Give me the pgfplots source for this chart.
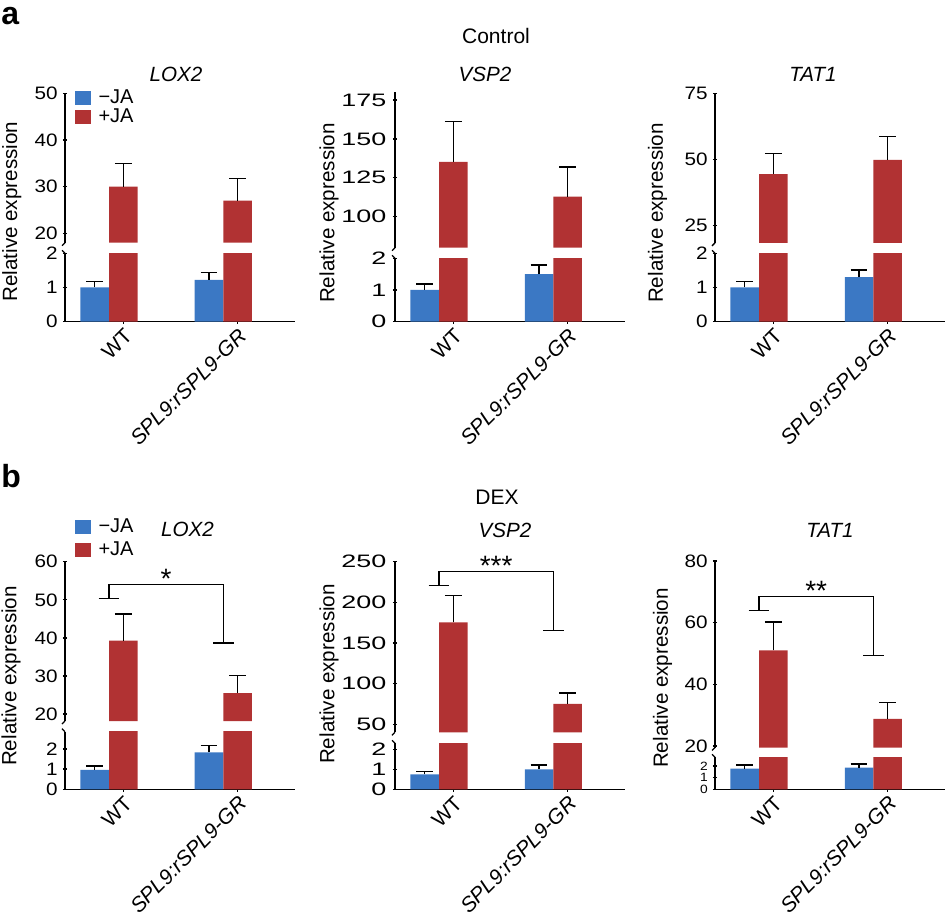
\documentclass[border=0pt]{standalone}
\usepackage{pgfplots}
\pgfplotsset{compat=1.18}
\usepackage{fontspec}
\setmainfont{Liberation Sans}
\definecolor{bJA}{RGB}{59,120,196}
\definecolor{rJA}{RGB}{177,50,51}
\newcommand\fs[1]{\fontsize{#1}{#1}\selectfont}
\tikzset{sigstar/.style={anchor=base, inner sep=0pt, font=\fs{14}, yshift=-2pt}}
\pgfplotsset{
  base/.style={scale only axis, width=115pt, xmin=-0.385, xmax=1.627,
    anchor=south west, clip mode=individual,
    tick style={line width=0.65pt, black}, tick align=outside, major tick length=2.2pt,
    /pgf/number format/assume math mode=true,
    yticklabel style={font=\fs{9}, inner sep=2pt, xscale=1.15},
    ybar, bar width=0.25, bar shift=0pt,
    error bars/y dir=plus, error bars/y explicit,
    error bars/error bar style={line width=0.65pt, draw=black},
    error bars/error mark options={rotate=90, mark size=4.2pt, line width=0.65pt, draw=black}},
  lower/.style={base, axis x line=bottom, axis y line=left, ymin=0, ytick={0,1,2},
    xtick={0.125,1.125}, xticklabels={WT,\textit{SPL9:rSPL9-GR}},
    xticklabel style={rotate=45, anchor=north east, font=\fs{10.5}, inner sep=1pt},
    axis line style={-, line width=0.65pt, black},
    x axis line style={-}, y axis line style={-}},
  upper/.style={base, axis x line=none, axis y line=left,
    axis line style={-, line width=0.65pt, black},
    x axis line style={-}, y axis line style={-}},
  wide/.style={yticklabel style={xscale=1.3}},
  blue/.style={fill=bJA, draw=none},
  red/.style={fill=rJA, draw=none},
  leg/.style={legend cell align=left,
    legend image code/.code={\fill[##1] (0pt,-3.5pt) rectangle (7.85pt,3.5pt);},
    legend style={anchor=north west, draw=none, fill=none, inner sep=0pt,
      column sep=3.7pt, font=\fs{10}, nodes={inner sep=0pt}}},
}
\begin{document}
\begin{tikzpicture}
\path[use as bounding box] (0pt,0pt) rectangle (473pt,460.5pt);

% ---------------- panel a ----------------
% LOX2
\begin{axis}[lower, at={(32.5pt,299.65pt)}, height=34.2pt, ymax=2]
\addplot[blue] coordinates {(-0.125,1.00) +- (0,0.17) (0.875,1.22) +- (0,0.22)};
\addplot[red, error bars/y dir=none] coordinates {(0.125,30) (1.125,27)};
\draw[line width=0.65pt] (rel axis cs:0,1) -- ++(-1.5pt,1.5pt);
\end{axis}
\begin{axis}[upper, at={(32.5pt,339.15pt)}, height=74.7pt, ymin=18, ymax=50, ytick={20,30,40,50},
  leg, legend style={at={(0.0435,1.029)}, row sep=1.5pt}]
\addplot[red, forget plot] coordinates {(0.125,30) +- (0,5) (1.125,27) +- (0,4.7)};
\addlegendimage{fill=bJA, draw=none}\addlegendentry{−JA}
\addlegendimage{fill=rJA, draw=none}\addlegendentry{+JA}
\draw[line width=0.65pt] (rel axis cs:0,0) -- ++(-1.5pt,-1.5pt);
\end{axis}
% VSP2
\begin{axis}[lower, wide, at={(197.5pt,299.65pt)}, height=31.7pt, ymax=2]
\addplot[blue] coordinates {(-0.125,1.00) +- (0,0.19) (0.875,1.50) +- (0,0.29)};
\addplot[red, error bars/y dir=none] coordinates {(0.125,135.3) (1.125,112.9)};
\draw[line width=0.65pt] (rel axis cs:0,1) -- ++(-1.5pt,1.5pt);
\end{axis}
\begin{axis}[upper, wide, at={(197.5pt,336.65pt)}, height=77.7pt, ymin=80, ymax=180, ytick={100,125,150,175}]
\addplot[red] coordinates {(0.125,135.3) +- (0,25.7) (1.125,112.9) +- (0,19.1)};
\draw[line width=0.65pt] (rel axis cs:0,0) -- ++(-1.5pt,-1.5pt);
\end{axis}
% TAT1
\begin{axis}[lower, at={(357.5pt,299.65pt)}, height=34.2pt, ymax=2]
\addplot[blue] coordinates {(-0.125,1.00) +- (0,0.17) (0.875,1.30) +- (0,0.21)};
\addplot[red, error bars/y dir=none] coordinates {(0.125,44.5) (1.125,49.9)};
\draw[line width=0.65pt] (rel axis cs:0,1) -- ++(-1.5pt,1.5pt);
\end{axis}
\begin{axis}[upper, at={(357.5pt,339.05pt)}, height=74.8pt, ymin=18.5, ymax=75, ytick={25,50,75}]
\addplot[red] coordinates {(0.125,44.5) +- (0,7.7) (1.125,49.9) +- (0,8.7)};
\draw[line width=0.65pt] (rel axis cs:0,0) -- ++(-1.5pt,-1.5pt);
\end{axis}

% ---------------- panel b ----------------
% LOX2
\begin{axis}[lower, at={(32.5pt,65.85pt)}, height=28.8pt, ymax=2.85]
\addplot[blue] coordinates {(-0.125,0.96) +- (0,0.19) (0.875,1.83) +- (0,0.35)};
\addplot[red, error bars/y dir=none] coordinates {(0.125,39.3) (1.125,25.5)};
\draw[line width=0.65pt] (rel axis cs:0,1) -- ++(-1.5pt,1.5pt);
\end{axis}
\begin{axis}[upper, at={(32.5pt,100pt)}, height=79.65pt, ymin=18.2, ymax=60, ytick={20,30,40,50,60},
  leg, legend style={at={(0.0435,1.274)}, row sep=3.2pt}]
\addplot[red, forget plot] coordinates {(0.125,39.3) +- (0,7.0) (1.125,25.5) +- (0,4.7)};
\addlegendimage{fill=bJA, draw=none}\addlegendentry{−JA}
\addlegendimage{fill=rJA, draw=none}\addlegendentry{+JA}
\draw[line width=0.65pt] (rel axis cs:0,0) -- ++(-1.5pt,-1.5pt);
\draw[line width=0.65pt] (axis cs:-0.09,50.4) -- (axis cs:0.09,50.4);
\draw[line width=0.65pt] (axis cs:0,50.4) -- (axis cs:0,54.1) -- (axis cs:1,54.1) -- (axis cs:1,38.7);
\draw[line width=0.65pt] (axis cs:0.91,38.7) -- (axis cs:1.09,38.7);
\node[sigstar] at (axis cs:0.5,54.1) {*};
\end{axis}
% VSP2
\begin{axis}[lower, wide, at={(197.5pt,65.85pt)}, height=23pt, ymax=2.3]
\addplot[blue] coordinates {(-0.125,0.75) +- (0,0.13) (0.875,1.00) +- (0,0.21)};
\addplot[red, error bars/y dir=none] coordinates {(0.125,175.4) (1.125,75)};
\draw[line width=0.65pt] (rel axis cs:0,1) -- ++(-1.5pt,1.5pt);
\end{axis}
\begin{axis}[upper, wide, at={(197.5pt,94.35pt)}, height=85.3pt, ymin=40, ymax=250, ytick={50,100,150,200,250}]
\addplot[red] coordinates {(0.125,175.4) +- (0,32.6) (1.125,75) +- (0,13.5)};
\draw[line width=0.65pt] (rel axis cs:0,0) -- ++(-1.5pt,-1.5pt);
\draw[line width=0.65pt] (axis cs:-0.09,220.4) -- (axis cs:0.09,220.4);
\draw[line width=0.65pt] (axis cs:0,220.4) -- (axis cs:0,238) -- (axis cs:1,238) -- (axis cs:1,165.5);
\draw[line width=0.65pt] (axis cs:0.91,165.5) -- (axis cs:1.09,165.5);
\node[sigstar] at (axis cs:0.5,238) {***};
\end{axis}
% TAT1
\begin{axis}[lower, at={(357.5pt,65.85pt)}, height=16pt, ymax=2.74, yticklabel style={font=\fs{6}}]
\addplot[blue] coordinates {(-0.125,1.77) +- (0,0.31) (0.875,1.85) +- (0,0.32)};
\addplot[red, error bars/y dir=none] coordinates {(0.125,51.0) (1.125,28.8)};
\draw[line width=0.65pt] (rel axis cs:0,1) -- ++(-1.5pt,1.5pt);
\end{axis}
\begin{axis}[upper, at={(357.5pt,86.75pt)}, height=93.25pt, ymin=19.5, ymax=80, ytick={20,40,60,80}]
\addplot[red] coordinates {(0.125,51.0) +- (0,9.2) (1.125,28.8) +- (0,5.2)};
\draw[line width=0.65pt] (rel axis cs:0,0) -- ++(-1.5pt,-1.5pt);
\draw[line width=0.65pt] (axis cs:-0.09,63.9) -- (axis cs:0.09,63.9);
\draw[line width=0.65pt] (axis cs:0,63.9) -- (axis cs:0,68.5) -- (axis cs:1,68.5) -- (axis cs:1,49.3);
\draw[line width=0.65pt] (axis cs:0.91,49.3) -- (axis cs:1.09,49.3);
\node[sigstar] at (axis cs:0.5,68.5) {**};
\end{axis}

% ---------------- texts ----------------
\node[anchor=base west, inner sep=0pt, font=\fs{16}\bfseries] at (0.5pt,448pt) {a};
\node[anchor=base west, inner sep=0pt, font=\fs{16}\bfseries] at (0.5pt,216.5pt) {b};
\node[anchor=base, inner sep=0pt, font=\fs{10.5}] at (248pt,438.85pt) {Control};
\node[anchor=base, inner sep=0pt, font=\fs{10.5}] at (248.5pt,208pt) {DEX};

\node[anchor=base, inner sep=0pt, font=\fs{10.3}\itshape] at (88pt,419.65pt) {LOX2};
\node[anchor=base, inner sep=0pt, font=\fs{10.3}\itshape] at (242.5pt,419.65pt) {VSP2};
\node[anchor=base, inner sep=0pt, font=\fs{10.3}\itshape] at (406.5pt,419.65pt) {TAT1};
\node[anchor=base, inner sep=0pt, font=\fs{10.3}\itshape] at (93.75pt,192.15pt) {LOX2};
\node[anchor=base, inner sep=0pt, font=\fs{10.3}\itshape] at (252.5pt,191.5pt) {VSP2};
\node[anchor=base, inner sep=0pt, font=\fs{10.3}\itshape] at (415pt,191.5pt) {TAT1};

\node[rotate=90, inner sep=0pt, font=\fs{10.3}] at (5.85pt,354.65pt) {Relative expression};
\node[rotate=90, inner sep=0pt, font=\fs{10.3}] at (164.5pt,354pt) {Relative expression};
\node[rotate=90, inner sep=0pt, font=\fs{10.3}] at (328.75pt,354pt) {Relative expression};
\node[rotate=90, inner sep=0pt, font=\fs{10.3}] at (5.5pt,122.5pt) {Relative expression};
\node[rotate=90, inner sep=0pt, font=\fs{10.3}] at (164.5pt,123.5pt) {Relative expression};
\node[rotate=90, inner sep=0pt, font=\fs{10.3}] at (331.25pt,121.5pt) {Relative expression};
\end{tikzpicture}
\end{document}
